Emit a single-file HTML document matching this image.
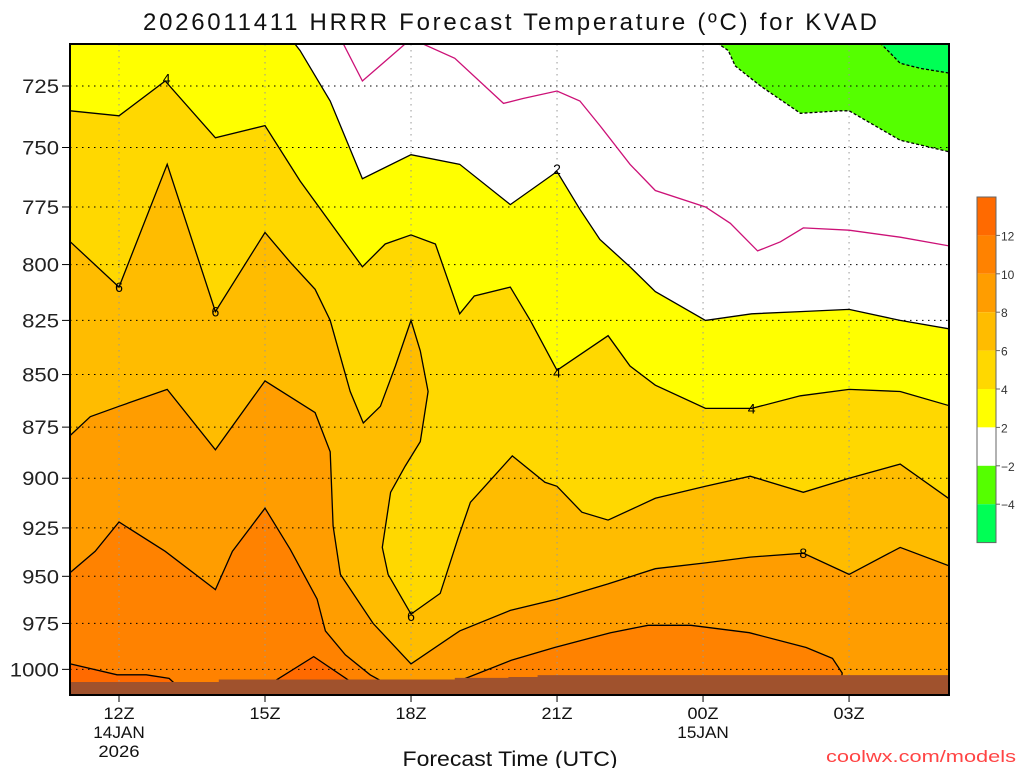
<!DOCTYPE html>
<html><head><meta charset="utf-8">
<style>
html,body{margin:0;padding:0;background:#fff;}
svg text{font-family:"Liberation Sans",sans-serif;}
</style></head>
<body>
<svg id="chart" width="1024" height="768" viewBox="0 0 1024 768" xmlns="http://www.w3.org/2000/svg">
<defs><clipPath id="plotclip"><rect x="70" y="44" width="879" height="651"/></clipPath></defs>
<text x="510" y="30" font-size="24" text-anchor="middle" fill="#111" textLength="734" lengthAdjust="spacing">2026011411 HRRR Forecast Temperature (ºC) for KVAD</text>
<g id="plot" clip-path="url(#plotclip)"></g>
<g id="overlay"></g>
</svg>
<script>
// ---- data (hour since 00Z 14JAN, pressure hPa) ----
const timeTickHours = [12,15,18,21,24,27];
const timeTickLabels = ["12Z","15Z","18Z","21Z","00Z","03Z"];
const timeSubLabels = [["14JAN","2026"],[],[],[],["15JAN"],[]];
const pressureTicks = [725,750,775,800,825,850,875,900,925,950,975,1000];
const legendLevels = ["12","10","8","6","4","2","\u22122","\u22124"];
const legendColors = ["#ff6a00","#ff8200","#ff9d00","#ffbc00","#ffd800","#ffff00","#ffffff","#55ff00","#00ff55"];

const isoM4 = [[27.64,708],[27.85,712],[28.05,716],[28.47,718],[29.1,720]];
const isoM2 = [[24.29,708],[24.52,711],[24.66,717],[25.18,725],[26,736],[26.82,735],[27,735],[27.44,740],[28.05,747],[29.1,752]];
const iso0 = [[16.6,708],[17.0,723],[17.9,708],[18.2,708],[18.9,714],[19.9,732],[20.3,730],[21,727],[21.47,731],[21.88,741],[22.5,757],[23.02,768],[24.05,775],[24.56,782],[25.12,794],[25.59,790],[26.06,784],[27,785],[28.05,788],[29.1,792]];
const iso2 = [[15.6,708],[15.72,711],[16.34,731],[17,763],[18,753],[19,757],[20.04,774],[21,760],[21.47,776],[21.88,789],[22.5,801],[23.02,812],[24.05,825],[25,822],[26,821],[27,820],[28.05,825],[29.1,829]];
const iso4 = [[11,735],[12,737],[12.95,723],[13.98,746],[15,741],[15.72,764],[17,801],[17.47,791],[18,787],[18.5,791],[19,822],[19.3,814],[20.04,810],[20.45,825],[21,848],[22.05,832],[22.5,846],[23.02,855],[24.05,866],[25,866],[26,860],[27,857],[28.05,858],[29.1,865]];
const iso6 = [[11,790],[12,810],[12.99,757],[13.98,821],[15,786],[15.52,799],[16.03,811],[16.34,825],[16.75,858],[17.02,873],[17.37,865],[17.68,846],[18,825],[18.19,839],[18.35,858],[18.19,882],[17.88,894],[17.58,907],[17.41,935],[17.53,949],[18,970],[18.6,959],[18.97,930],[19.22,912],[19.63,901],[20.08,889],[20.75,902],[21,904],[21.51,917],[22.05,921],[23.02,910],[24.05,904],[24.97,899],[26.06,907],[27,900],[28.05,893],[29.1,911]];
const iso8 = [[11,879],[11.41,870],[12,865],[12.99,857],[13.98,886],[15,853],[16.03,868],[16.34,887],[16.4,924],[16.55,949],[17.22,975],[18,997],[19,979],[20.04,968],[21,962],[22.05,954],[23.02,946],[24.05,943],[24.97,940],[26.06,938],[27,949],[28.05,935],[29.1,945]];
const iso10a = [[11,948],[11.51,937],[12,922],[12.95,937],[13.98,957],[14.33,937],[15,915],[15.52,936],[16.07,962],[16.24,979],[16.65,992],[17.16,1003],[17.63,1010]];
const iso10b = [[18.93,1007],[20.06,995],[20.95,988],[22.1,980],[22.87,976],[23.75,976],[24.95,980],[26.12,988],[26.66,994],[26.86,1002],[26.84,1006]];
const iso12a = [[11,997],[11.96,1003],[12.56,1003],[13.03,1005],[13.23,1010]];
const iso12b = [[15.05,1009],[16,993],[16.88,1009]];
const surface = [[11,1007],[14,1007],[14.05,1005.6],[18,1005.6],[18.9,1004.7],[20,1004.2],[20.6,1003.2],[29.2,1003.2]];
const contourLabels = [["4",12.98,722],["6",12,810],["6",13.98,821],["2",21,759],["4",21,849],["4",25,866],["8",26.06,938],["6",18,971]];

// ---- scales ----
const X0=70,X1=949,Y0=44,Y1=695;
function xs(h){return 119+(h-12)*48.67;}
function ys(p){return 86+1814*Math.log(p/725);}
const NS="http://www.w3.org/2000/svg";
const plot=document.getElementById('plot');
const ov=document.getElementById('overlay');
function mk(tag,attrs,parent){const e=document.createElementNS(NS,tag);for(const k in attrs)e.setAttribute(k,attrs[k]);parent.appendChild(e);return e;}
function pts(a){return a.map(p=>xs(p[0]).toFixed(1)+","+ys(p[1]).toFixed(1)).join(" ");}
function fillBelow(line,color,name){
  const s=pts(line)+" "+(X1+5)+","+(Y1+5)+" "+(X0-5)+","+(Y1+5);
  const e=mk('polygon',{points:s,fill:color},plot);
  
  
}
function fillClosed(line,color,name){
  const e=mk('polygon',{points:pts(line),fill:color},plot);
  
  
}
function drawLine(line,color,dash,name){
  const e=mk('polyline',{points:pts(line),fill:'none',stroke:color,'stroke-width':1.3,'stroke-dasharray':dash||'none'},plot);
  
  
}
// fills
mk('rect',{x:X0,y:Y0,width:X1-X0,height:Y1-Y0,fill:'#fff'},plot);
fillClosed(isoM2.concat([[29.3,700],[24.29,700]]),legendColors[7],'band-minus4-to-minus2');
fillClosed(isoM4.concat([[29.3,700],[27.64,700]]),legendColors[8],'band-below-minus4');
fillBelow([[10.5,700],[15.6,700]].concat(iso2),legendColors[5],'band-2-to-4');
fillBelow(iso4,legendColors[4],'band-4-to-6');
fillBelow(iso6,legendColors[3],'band-6-to-8');
fillBelow(iso8,legendColors[2],'band-8-to-10');
fillClosed(iso10a.concat([[17.63,1020],[10.5,1020],[10.5,948]]),legendColors[1],'band-10-to-12-left');
fillClosed(iso10b.concat([[26.84,1020],[18.93,1020]]),legendColors[1],'band-10-to-12-right');
fillClosed(iso12a.concat([[13.23,1020],[10.5,1020],[10.5,997]]),legendColors[0],'band-above-12-left');
fillClosed(iso12b.concat([[16.88,1020],[15.05,1020]]),legendColors[0],'band-above-12-center');
// grid
pressureTicks.forEach(p=>{const e=mk('line',{x1:X0,x2:X1,y1:ys(p),y2:ys(p),stroke:'#000','stroke-width':1,'stroke-dasharray':'1.5,4.5'},plot);
  
  });
timeTickHours.forEach(h=>{const e=mk('line',{x1:xs(h),x2:xs(h),y1:Y0,y2:Y1,stroke:'#999','stroke-width':1,'stroke-dasharray':'1.5,4.5'},plot);
  
  });
// contour lines
drawLine(isoM4,'#000','3,2','contour-minus4');
drawLine(isoM2,'#000','3,2','contour-minus2');
drawLine(iso0,'#cc1177',null,'contour-0');
drawLine(iso2,'#000',null,'contour-2');
drawLine(iso4,'#000',null,'contour-4');
drawLine(iso6,'#000',null,'contour-6');
drawLine(iso8,'#000',null,'contour-8');
drawLine(iso10a,'#000',null,'contour-10-left');
drawLine(iso10b,'#000',null,'contour-10-right');
drawLine(iso12a,'#000',null,'contour-12-left');
drawLine(iso12b,'#000',null,'contour-12-center');
contourLabels.forEach(l=>{const t=mk('text',{x:xs(l[1]),y:ys(l[2])+5,'font-size':14,'text-anchor':'middle',fill:'#000'},plot);t.textContent=l[0];
  
  });
// ground
(function(){let s="";surface.forEach((p,i)=>{const x=xs(p[0]),y=ys(p[1]);if(i>0){s+=x.toFixed(1)+","+ys(surface[i-1][1]).toFixed(1)+" ";}s+=x.toFixed(1)+","+y.toFixed(1)+" ";});
 s+=(X1+5)+","+(Y1+5)+" "+(X0-5)+","+(Y1+5);
 const g=mk('polygon',{points:s,fill:'#a0522d'},plot);
 
 })();
// frame
const fr=mk('rect',{x:X0,y:Y0,width:X1-X0,height:Y1-Y0,fill:'none',stroke:'#000','stroke-width':2},ov);


// y axis
pressureTicks.forEach(p=>{
  mk('line',{x1:62,x2:X0,y1:ys(p),y2:ys(p),stroke:'#000','stroke-width':1},ov);
  const s=String(p);
  const t=mk('text',{x:59,y:ys(p)+7,'font-size':19,'text-anchor':'end',fill:'#222',textLength:s.length*12.3,lengthAdjust:'spacingAndGlyphs'},ov);t.textContent=s;
  
  
});
// x axis
timeTickHours.forEach((h,i)=>{
  mk('line',{x1:xs(h),x2:xs(h),y1:Y1,y2:Y1+7,stroke:'#000','stroke-width':1},ov);
  const t=mk('text',{x:xs(h),y:719,'font-size':17,'text-anchor':'middle',fill:'#111',textLength:31,lengthAdjust:'spacingAndGlyphs'},ov);t.textContent=timeTickLabels[i];
  
  
  timeSubLabels[i].forEach((s,j)=>{const u=mk('text',{x:xs(h),y:738+j*19,'font-size':17,'text-anchor':'middle',fill:'#111',textLength:s.length*10.3,lengthAdjust:'spacingAndGlyphs'},ov);u.textContent=s;
    
    });
});
const xt=mk('text',{x:510,y:766,'font-size':21,'text-anchor':'middle',fill:'#111',textLength:215,lengthAdjust:'spacingAndGlyphs'},ov);xt.textContent="Forecast Time (UTC)";


const cr=mk('text',{x:1016,y:762,'font-size':17,'text-anchor':'end',fill:'#ff4444',textLength:190,lengthAdjust:'spacingAndGlyphs'},ov);cr.textContent="coolwx.com/models";


// legend
legendColors.forEach((c,i)=>{
  const r=mk('rect',{x:977,y:197+i*38.4,width:19,height:38.4,fill:c},ov);
  
  
});
mk('rect',{x:977,y:197,width:19,height:38.4*9,fill:'none',stroke:'#666','stroke-width':1},ov);
legendLevels.forEach((l,i)=>{
  const y=197+(i+1)*38.4;
  mk('line',{x1:996,x2:1000,y1:y,y2:y,stroke:'#666'},ov);
  const t=mk('text',{x:1001,y:y+5,'font-size':12,fill:'#333'},ov);t.textContent=l;
  
  
});
</script>
</body></html>
